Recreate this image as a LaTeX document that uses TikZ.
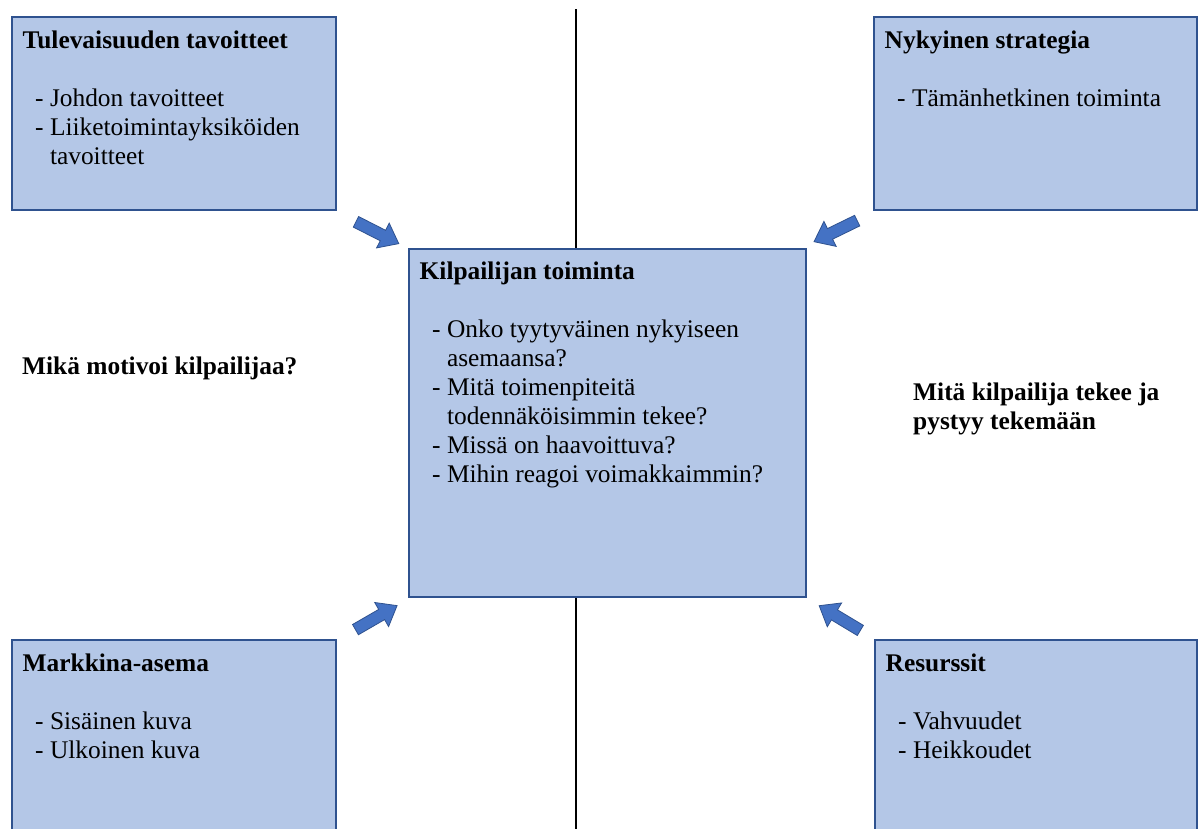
\documentclass[tikz,border=0pt]{standalone}
\usepackage{fontspec}
\setmainfont{Liberation Serif}
\usetikzlibrary{shapes.arrows}
\definecolor{boxfill}{HTML}{B4C7E7}
\definecolor{boxline}{HTML}{2F528F}
\definecolor{arrowfill}{HTML}{4472C4}
\tikzset{
  panel/.style={rectangle, draw=boxline, line width=1.2pt, fill=boxfill,
    inner sep=0pt, outer sep=0pt, anchor=north west},
  heading/.style={anchor=base west, inner sep=0pt,
    font=\fontsize{25.4}{29}\selectfont\bfseries},
  entry/.style={anchor=base west, inner sep=0pt,
    font=\fontsize{25.4}{29}\selectfont},
  blockarrow/.style={single arrow, draw=boxline, line width=0.8pt,
    fill=arrowfill, minimum height=48pt, text width=0pt,
    text height=5.5pt, text depth=5.5pt, inner sep=0pt,
    single arrow head extend=8pt, single arrow tip angle=76,
    anchor=center},
  divider/.style={line width=2pt, black}
}
\newcommand{\hang}{\phantom{-}\ }
\begin{document}
\begin{tikzpicture}[x=1pt,y=-1pt]
\useasboundingbox (0,0) rectangle (1199,828);
\clip (0,0) rectangle (1199,828);

% vertical divider behind the centre box
\coordinate (vtop) at (576,9);
\coordinate (vbot) at (576,840);
\draw[divider] (vtop) -- (vbot);

% panels
\node[panel, minimum width=324pt, minimum height=193pt] (goals) at (12,17) {};
\node[panel, minimum width=323pt, minimum height=193pt] (strategy) at (874,17) {};
\node[panel, minimum width=397pt, minimum height=348pt] (action) at (409,249) {};
\node[panel, minimum width=324pt, minimum height=200pt] (market) at (12,640) {};
\node[panel, minimum width=322pt, minimum height=200pt] (resources) at (875,640) {};

% top-left panel text
\node[heading] (goalsT) at (22.5,48) {Tulevaisuuden tavoitteet};
\node[entry] (goals1) at (35,106) {- Johdon tavoitteet};
\node[entry] (goals2) at (35,135) {- Liiketoimintayksiköiden};
\node[entry] (goals3) at (35,164) {\hang tavoitteet};

% top-right panel text
\node[heading] (strategyT) at (884.5,48) {Nykyinen strategia};
\node[entry] (strategy1) at (897,106) {- Tämänhetkinen toiminta};

% centre panel text
\node[heading] (actionT) at (419.5,279) {Kilpailijan toiminta};
\node[entry] (action1) at (432,337) {- Onko tyytyväinen nykyiseen};
\node[entry] (action2) at (432,366) {\hang asemaansa?};
\node[entry] (action3) at (432,395) {- Mitä toimenpiteitä};
\node[entry] (action4) at (432,424) {\hang todennäköisimmin tekee?};
\node[entry] (action5) at (432,453) {- Missä on haavoittuva?};
\node[entry] (action6) at (432,482) {- Mihin reagoi voimakkaimmin?};

% bottom-left panel text
\node[heading] (marketT) at (22.5,671) {Markkina-asema};
\node[entry] (market1) at (35,729) {- Sisäinen kuva};
\node[entry] (market2) at (35,758) {- Ulkoinen kuva};

% bottom-right panel text
\node[heading] (resourcesT) at (885.5,671) {Resurssit};
\node[entry] (resources1) at (898,729) {- Vahvuudet};
\node[entry] (resources2) at (898,758) {- Heikkoudet};

% side questions
\node[heading] (motive) at (22,374) {Mikä motivoi kilpailijaa?};
\node[heading] (able1) at (913,400) {Mitä kilpailija tekee ja};
\node[heading] (able2) at (913,429) {pystyy tekemään};

% block arrows pointing at the centre panel
\node[blockarrow, rotate=-27] (arrGoals) at (374,231) {};
\node[blockarrow, rotate=206] (arrStrategy) at (839,229.5) {};
\node[blockarrow, rotate=30] (arrMarket) at (373,619.5) {};
\node[blockarrow, rotate=149] (arrResources) at (843,620) {};
\end{tikzpicture}
\end{document}
